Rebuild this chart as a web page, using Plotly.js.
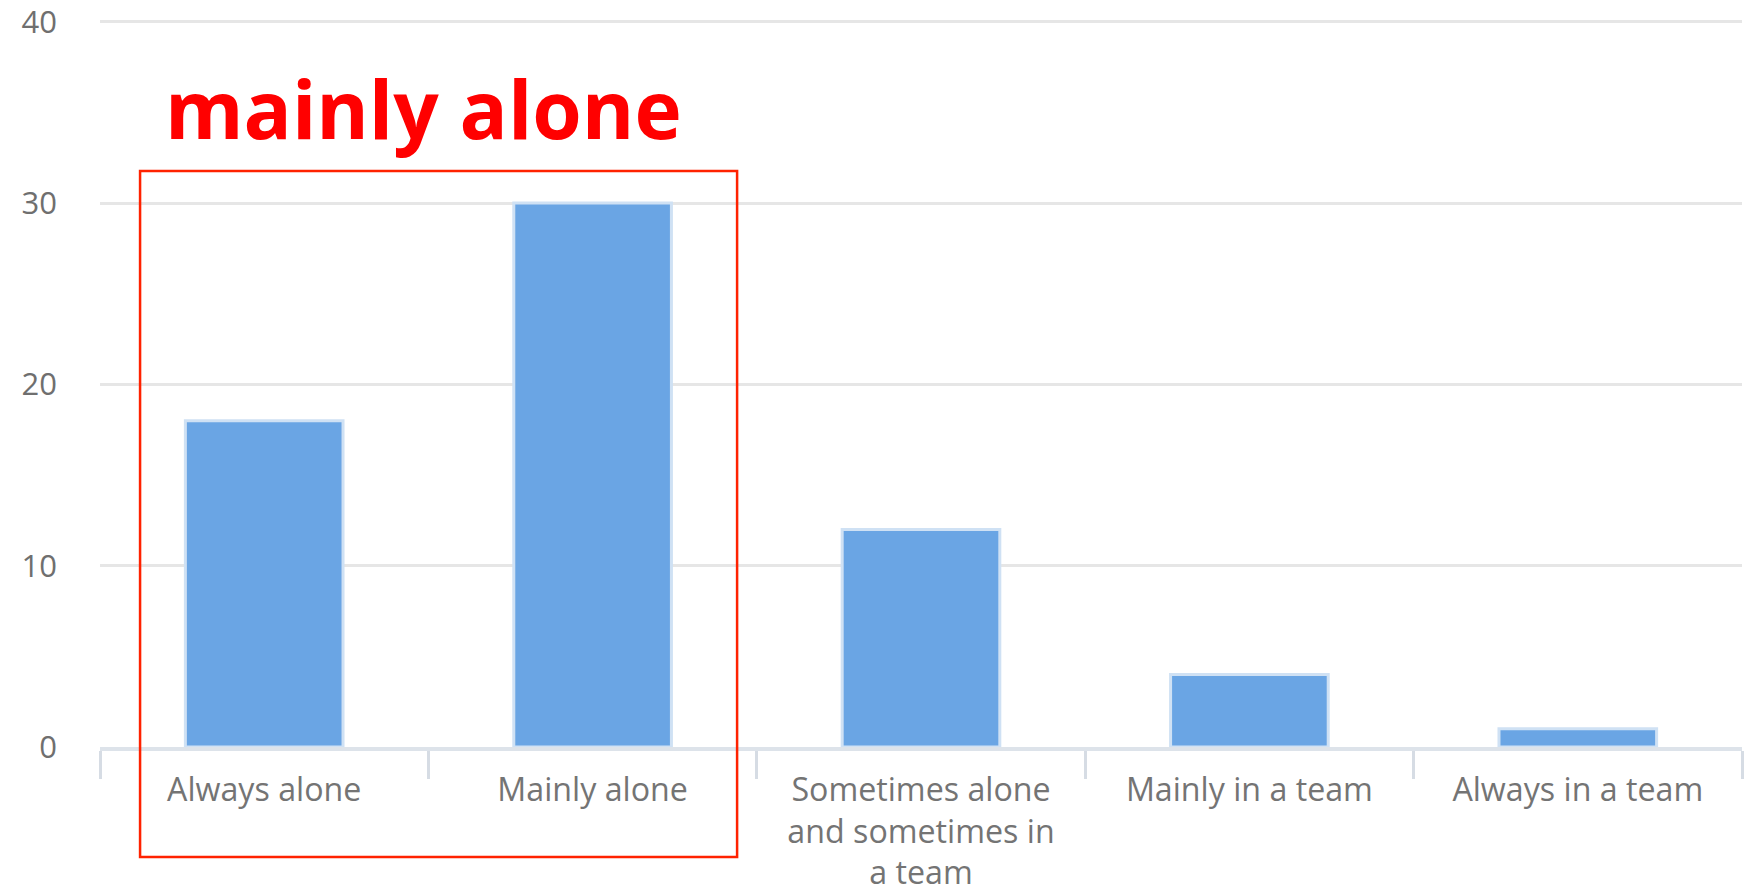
<!DOCTYPE html>
<html>
<head>
<meta charset="utf-8">
<script src="https://cdn.plot.ly/plotly-3.0.1.min.js"></script>
<style>
  html, body { margin: 0; padding: 0; background: #ffffff; }
  #chart { width: 1749px; height: 889px; }
</style>
</head>
<body>
<div id="chart"></div>
<script>
// Answers to "Do you work alone or in a team?"
const categories = [
  "Always alone",
  "Mainly alone",
  "Sometimes alone<br>and sometimes in<br>a team",
  "Mainly in a team",
  "Always in a team"
];
const counts = [18, 30, 12, 4, 1];
const yTicks = [0, 10, 20, 30, 40];

const highlightText = "mainly alone";

const trace = {
  type: "bar",
  x: categories,
  y: counts,
  marker: {
    color: "#6aa5e4",
    line: { color: "#cfe1f4", width: 3 }
  },
  hoverinfo: "x+y"
};

const layout = {
  width: 1749,
  height: 889,
  margin: { l: 100, r: 7, t: 20, b: 142 },
  paper_bgcolor: "#ffffff",
  plot_bgcolor: "#ffffff",
  showlegend: false,
  bargap: 0.52,
  font: { family: "Open Sans, sans-serif", color: "#6f6f6f", size: 32 },
  xaxis: {
    type: "category",
    tickson: "boundaries",
    ticks: "outside",
    ticklen: 28,
    tickwidth: 3,
    tickcolor: "#d6dce4",
    showline: true,
    linecolor: "#dde3ea",
    linewidth: 4,
    showgrid: false,
    zeroline: false,
    ticklabelstandoff: 11,
    ticklabeloverflow: "allow",
    tickfont: { family: "Open Sans, sans-serif", size: 32.2, color: "#747474" },
    fixedrange: true
  },
  yaxis: {
    range: [0, 40.1],
    tickvals: yTicks,
    ticktext: yTicks.map(String),
    showgrid: true,
    gridcolor: "#e6e6e6",
    gridwidth: 3,
    zeroline: false,
    showline: false,
    ticks: "",
    ticklabelstandoff: 42,
    ticklabeloverflow: "allow",
    tickfont: { family: "Open Sans, sans-serif", size: 31, color: "#6f6f6f" },
    fixedrange: true
  },
  shapes: [
    {
      type: "rect",
      xref: "paper",
      yref: "paper",
      x0: 0.0244,
      x1: 0.388,
      y0: -0.1513,
      y1: 0.7923,
      line: { color: "#ff2200", width: 2.5 },
      fillcolor: "rgba(0,0,0,0)",
      layer: "above"
    }
  ],
  annotations: [
    {
      xref: "paper",
      yref: "paper",
      x: 0.197,
      y: 0.880,
      xanchor: "center",
      yanchor: "middle",
      showarrow: false,
      text: "<b>" + highlightText + "</b>",
      font: { family: "Open Sans, sans-serif", size: 80, color: "#ff0000" }
    }
  ]
};

Plotly.newPlot("chart", [trace], layout, { displayModeBar: false, staticPlot: true });
</script>
</body>
</html>
